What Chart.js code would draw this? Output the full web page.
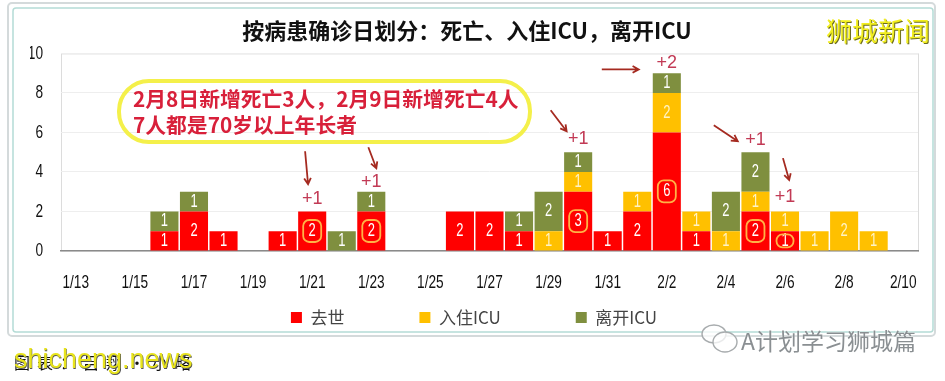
<!DOCTYPE html>
<html lang="zh">
<head>
<meta charset="utf-8">
<style>
html,body{margin:0;padding:0;background:#fff;}
#wrap{position:relative;width:945px;height:381px;}
canvas{display:block;}
</style>
<script src="https://cdn.jsdelivr.net/npm/chart.js@4"></script>
</head>
<body>
<div id="wrap"><canvas id="c" width="945" height="381"></canvas></div>
<script>
const categories = ['1/13','1/14','1/15','1/16','1/17','1/18','1/19','1/20','1/21','1/22','1/23','1/24','1/25','1/26','1/27','1/28','1/29','1/30','1/31','2/1','2/2','2/3','2/4','2/5','2/6','2/7','2/8','2/9','2/10'];
const deaths   = [0,0,0,1,2,1,0,1,2,0,2,0,0,2,2,1,0,3,1,2,6,1,0,2,1,0,0,0,0];
const icuIn    = [0,0,0,0,0,0,0,0,0,0,0,0,0,0,0,0,1,1,0,1,2,1,1,1,1,1,2,1,0];
const icuOut   = [0,0,0,1,1,0,0,0,0,1,1,0,0,0,0,1,2,1,0,0,1,0,2,2,0,0,0,0,0];
const seriesNames = ['去世','入住ICU','离开ICU'];
const yTicks = [0,2,4,6,8,10];
const titleText = '按病患确诊日划分：死亡、入住ICU，离开ICU';
const calloutLines = ['2月8日新增死亡3人，2月9日新增死亡4人','7人都是70岁以上年长者'];
const circledDeaths = ['1/21','1/23','1/30','2/2','2/5','2/6'];
const plusNotes = [['1/21',2.62,'+1'],['1/23',3.5,'+1'],['1/30',5.65,'+1'],['2/2',9.5,'+2'],['2/5',5.6,'+1'],['2/6',2.75,'+1']];
const arrows = [[7.76,5.05,7.86,3.38],[9.9,5.25,10.17,4.19],[17.8,9.19,19.05,9.19],[16.07,7.12,16.61,6.06],[21.59,6.36,22.4,5.56],[23.93,4.7,24.14,3.59]];

const SANS = '"Liberation Sans",sans-serif';
const CJK = '"Noto Sans CJK SC","Noto Sans",sans-serif';
const NARROW_RATIO = 0.72;

function narrowText(g,text,x,y){
  g.fillText(text,x,y,g.measureText(text).width*NARROW_RATIO);
}

const framePlugin = {
  id:'frame',
  beforeDraw(chart){
    const g = chart.ctx;
    g.save();
    g.lineWidth = 2; g.strokeStyle = '#d4dadb';
    g.beginPath(); g.roundRect(8,3,927,333,4); g.stroke();
    g.lineWidth = 1.5; g.strokeStyle = '#b4dcd6';
    g.beginPath(); g.roundRect(13,8,920,324,3); g.stroke();
    const a = chart.chartArea;
    g.lineWidth = 1; g.strokeStyle = '#dcdcdc';
    g.strokeRect(a.left+.5,a.top+.5,a.right-a.left,a.bottom-a.top);
    g.restore();
  }
};

const overlayPlugin = {
  id:'overlay',
  afterDatasetsDraw(chart){
    const g = chart.ctx, xs = chart.scales.x, ys = chart.scales.y;
    g.save();
    g.textAlign='center'; g.textBaseline='middle';
    chart.data.datasets.forEach((ds,di)=>{
      chart.getDatasetMeta(di).data.forEach((bar,i)=>{
        const v = ds.data[i];
        if(!v) return;
        const cy = (bar.y+bar.base)/2;
        g.fillStyle = di===1 ? '#fff3c4' : '#ffffff';
        g.font = '18px '+SANS;
        narrowText(g,String(v),bar.x,cy);
        if(di===0 && circledDeaths.includes(categories[i])){
          g.strokeStyle='#ffb347'; g.lineWidth=1.8;
          const w = v===1 ? 17 : 18, h = v===1 ? 13 : 22;
          g.beginPath(); g.roundRect(bar.x-w/2,cy-h/2,w,h,6); g.stroke();
        }
      });
    });
    g.strokeStyle='#a52a20'; g.lineWidth=1.8;
    arrows.forEach(([x0,y0,x1,y1])=>{
      const ax=xs.getPixelForValue(x0), ay=ys.getPixelForValue(y0);
      const bx=xs.getPixelForValue(x1), by=ys.getPixelForValue(y1);
      const t=Math.atan2(by-ay,bx-ax);
      g.beginPath(); g.moveTo(ax,ay); g.lineTo(bx,by);
      g.moveTo(bx-7*Math.cos(t-.5),by-7*Math.sin(t-.5));
      g.lineTo(bx,by);
      g.lineTo(bx-7*Math.cos(t+.5),by-7*Math.sin(t+.5));
      g.stroke();
    });
    g.fillStyle='#c23a55'; g.font='18px '+SANS;
    plusNotes.forEach(([c,v,t])=>{
      g.fillText(t,xs.getPixelForValue(categories.indexOf(c)),ys.getPixelForValue(v));
    });
    g.strokeStyle='#f4f04a'; g.lineWidth=4;
    g.beginPath(); g.roundRect(119,81,411,61,30); g.stroke();
    g.textAlign='left'; g.fillStyle='#d8203a'; g.font='bold 20.8px '+CJK;
    g.fillText(calloutLines[0],133,99);
    g.fillText(calloutLines[1],133,125);
    // top-right logo
    g.fillStyle='#f2ee1e'; g.font='26px '+CJK;
    g.shadowColor='#6b6b20'; g.shadowOffsetX=1; g.shadowOffsetY=1;
    g.fillText('狮城新闻',826,31);
    g.shadowColor='transparent'; g.shadowOffsetX=0; g.shadowOffsetY=0;
    // source line + site mark
    g.fillStyle='#111'; g.font='16px '+CJK; g.letterSpacing='7px';
    g.fillText('图表：吕翔•小略',14,363);
    g.letterSpacing='0px';
    g.fillStyle='#e8e41c'; g.font='27px '+SANS;
    g.shadowColor='#555'; g.shadowOffsetX=.6; g.shadowOffsetY=.6;
    g.fillText('shicheng.news',14,361);
    g.shadowColor='transparent'; g.shadowOffsetX=0; g.shadowOffsetY=0;
    // wechat mark
    g.strokeStyle='#a8acae'; g.lineWidth=1.4; g.fillStyle='rgba(255,255,255,.75)';
    g.beginPath(); g.ellipse(714,334,12,9,0,0,Math.PI*2); g.fill(); g.stroke();
    g.beginPath(); g.ellipse(725,342,12,10,0,0,Math.PI*2); g.fill(); g.stroke();
    g.shadowColor='#ffffff'; g.shadowBlur=2;
    g.fillStyle='#8a8f92'; g.font='23px '+CJK;
    g.fillText('A计划学习狮城篇',741,341);
    g.restore();
  }
};

function narrowTicks(scale){
  if(scale.$narrow) return;
  scale.$narrow = true;
  const orig = scale._computeLabelItems;
  scale._computeLabelItems = function(area){
    const items = orig.call(this,area);
    const g = this.ctx;
    g.save();
    items.forEach(it=>{
      g.font = it.font.string;
      it.options.maxWidth = g.measureText(String(it.label)).width*NARROW_RATIO;
    });
    g.restore();
    return items;
  };
}

const layoutPlugin = {
  id:'layoutTweaks',
  beforeInit(chart){
    const fit = chart.legend.fit;
    chart.legend.fit = function(){ fit.call(this); this.height = 84; };
  },
  afterLayout(chart){
    chart.titleBlock.left-=7; chart.titleBlock.right-=7;
    chart.legend.top-=63;
    narrowTicks(chart.scales.x); narrowTicks(chart.scales.y);
  }
};

const mk = (label,data,color)=>({label,data,backgroundColor:color,borderWidth:0,stack:'s',barPercentage:1,categoryPercentage:.95});

new Chart(document.getElementById('c'),{
  type:'bar',
  data:{labels:categories,datasets:[mk(seriesNames[0],deaths,'#ff0000'),mk(seriesNames[1],icuIn,'#ffc000'),mk(seriesNames[2],icuOut,'#7f8f3f')]},
  plugins:[framePlugin,overlayPlugin,layoutPlugin],
  options:{
    responsive:false,animation:false,
    layout:{padding:{left:30,right:27,top:17,bottom:0}},
    plugins:{
      title:{display:true,text:titleText,color:'#111',font:{family:CJK,size:22,weight:'bold'},padding:{top:0,bottom:10}},
      legend:{position:'bottom',labels:{boxWidth:11,boxHeight:11,padding:75,color:'#444',font:{family:CJK,size:17}}},
      tooltip:{enabled:false}
    },
    scales:{
      x:{stacked:true,
        afterFit(s){s.height=46;},
        grid:{display:false,drawTicks:false},
        border:{color:'#8a8a8a',width:1.5},
        ticks:{padding:20,autoSkip:false,maxRotation:0,color:'#111',font:{family:SANS,size:19},
          callback(v,i){return i%2===0?categories[i]:'';}}
      },
      y:{stacked:true,min:0,max:10,
        afterFit(s){s.width=31;},
        afterBuildTicks(s){s.ticks=yTicks.map(value=>({value}));},
        grid:{color:'#eeeeee',drawTicks:false},
        border:{display:false},
        ticks:{padding:18,color:'#111',font:{family:SANS,size:19}}
      }
    }
  }
});
</script>
</body>
</html>
